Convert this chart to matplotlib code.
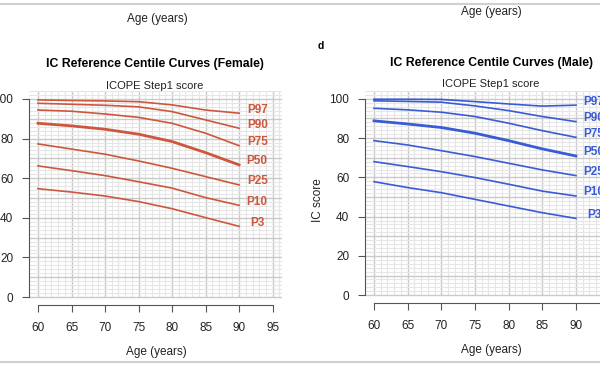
import matplotlib
matplotlib.use('Agg')
import matplotlib.pyplot as plt
from matplotlib.lines import Line2D

plt.rcParams['font.family'] = ['Liberation Sans', 'DejaVu Sans']

ages = [60, 65, 70, 75, 80, 85, 90]
centiles = ['P97', 'P90', 'P75', 'P50', 'P25', 'P10', 'P3']

# female centile curves
f_p97 = [99.5, 99.2, 99.0, 98.6, 97.0, 94.4, 92.8]
f_p90 = [97.8, 97.3, 96.8, 96.0, 93.6, 89.4, 85.2]
f_p75 = [94.4, 93.8, 92.4, 90.7, 87.7, 82.7, 76.4]
f_p50 = [87.7, 86.4, 84.7, 82.2, 78.5, 72.9, 66.7]
f_p25 = [77.3, 74.7, 72.1, 68.7, 65.0, 60.8, 56.6]
f_p10 = [66.2, 63.8, 61.3, 58.2, 55.0, 50.2, 46.3]
f_p3 = [54.7, 53.0, 51.0, 48.2, 44.6, 40.1, 35.7]

# male centile curves
m_p97 = [99.8, 99.8, 99.7, 98.6, 97.4, 96.3, 96.8]
m_p90 = [99.0, 98.7, 98.3, 96.4, 94.0, 91.0, 88.4]
m_p75 = [95.2, 94.4, 93.2, 91.0, 87.6, 83.8, 80.4]
m_p50 = [88.8, 87.2, 85.4, 82.5, 78.7, 74.5, 70.9]
m_p25 = [78.7, 76.5, 73.6, 70.6, 67.2, 63.8, 60.9]
m_p10 = [68.0, 65.5, 62.9, 59.9, 56.5, 53.0, 50.5]
m_p3 = [57.8, 54.8, 52.2, 48.8, 45.4, 42.0, 39.1]

x_ticks = [60, 65, 70, 75, 80, 85, 90, 95]
y_ticks = [0, 20, 40, 60, 80, 100]

W, H = 600, 372
fig = plt.figure(figsize=(6, 3.72), dpi=100)


def px(x0, y0, x1, y1):
    # pixel box (top-left origin) -> figure fraction rect
    return [x0 / W, (H - y1) / H, (x1 - x0) / W, (y1 - y0) / H]


def draw_panel(rect, curves, color):
    ax = fig.add_axes(rect)
    ax.set_xlim(58.6, 96.4)
    ax.set_ylim(-4, 104)
    # grid paper
    for v in range(60, 97):
        major = v % 5 == 0
        ax.vlines(v, 0, 104, color='#cacaca' if major else '#e6e6e6',
                  lw=1.0 if major else 0.8, zorder=0)
    for h in range(0, 105, 2):
        major = h % 10 == 0
        ax.axhline(h, color='#cacaca' if major else '#e6e6e6',
                   lw=1.0 if major else 0.8, zorder=0)
    for name, vals in zip(centiles, curves):
        lw = 2.0 if name == 'P50' else 1.2
        ax.plot(ages, vals, color=color, lw=lw, solid_joinstyle='round')
        ax.text(92.7, vals[-1] + 1.8, name, color=color, fontsize=8.5,
                fontweight='bold', ha='center', va='center')
    for s in ['top', 'right']:
        ax.spines[s].set_visible(False)
    ax.spines['left'].set_bounds(0, 100)
    ax.spines['bottom'].set_bounds(60, 95)
    for s in ['left', 'bottom']:
        ax.spines[s].set_color('#555555')
        ax.spines[s].set_linewidth(0.8)
    ax.set_xticks(x_ticks)
    ax.set_yticks(y_ticks)
    ax.tick_params(direction='out', length=5, width=0.8, color='#555555',
                   labelsize=8.5, labelcolor='#222222')
    ax.tick_params(axis='x', pad=7)
    ax.tick_params(axis='y', pad=6)
    return ax


draw_panel(px(28.6, 91, 282, 305),
           [f_p97, f_p90, f_p75, f_p50, f_p25, f_p10, f_p3], '#cd573d')
draw_panel(px(364.6, 91, 619, 303),
           [m_p97, m_p90, m_p75, m_p50, m_p25, m_p10, m_p3], '#3a5bd6')


def ftext(x, y, s, **kw):
    fig.text(x / W, 1 - y / H, s, ha='center', va='center', **kw)


# leftovers of the panels above
ftext(157, 19, 'Age (years)', fontsize=8.5, color='#222222')
ftext(491, 12, 'Age (years)', fontsize=8.5, color='#222222')
fig.add_artist(Line2D([0, 1], [1 - 4 / H, 1 - 4 / H], color='#d0d0d0', lw=1.5))
fig.add_artist(Line2D([0, 1], [1 - 362 / H, 1 - 362 / H], color='#d0d0d0', lw=1.5))

ftext(321, 46, 'd', fontsize=7.5, fontweight='bold')
ftext(155, 64, 'IC Reference Centile Curves (Female)', fontsize=8.8, fontweight='bold')
ftext(155, 86, 'ICOPE Step1 score', fontsize=8, color='#222222')
ftext(492, 63, 'IC Reference Centile Curves (Male)', fontsize=8.8, fontweight='bold')
ftext(491, 84, 'ICOPE Step1 score', fontsize=8, color='#222222')

ftext(156, 352, 'Age (years)', fontsize=8.5, color='#222222')
ftext(491, 350, 'Age (years)', fontsize=8.5, color='#222222')
ftext(318, 200, 'IC score', fontsize=8.5, color='#222222', rotation=90)

fig.savefig('out.png', dpi=100)
